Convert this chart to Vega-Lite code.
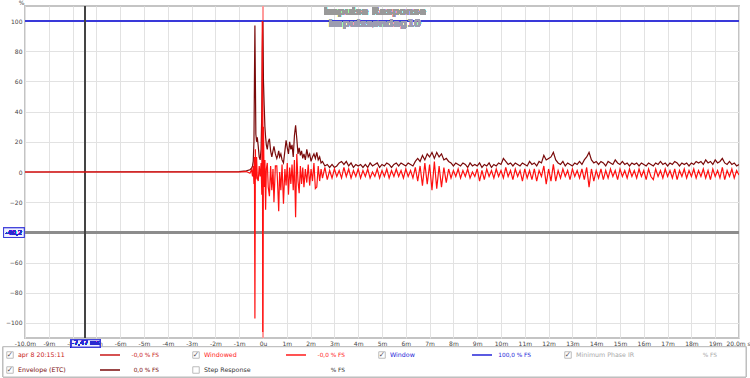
{
  "$schema": "https://vega.github.io/schema/vega-lite/v6.json",
  "width": 714,
  "height": 332,
  "autosize": "none",
  "padding": {"left": 25, "top": 6, "right": 11, "bottom": 40},
  "background": "white",
  "config": {
    "font": "DejaVu Sans",
    "view": {"stroke": "#c4c4c4", "strokeWidth": 2},
    "axis": {"labelFont": "DejaVu Sans", "labelFontSize": 6, "labelColor": "#444", "gridColor": "#e2e2e2", "gridWidth": 1, "ticks": false, "domain": false, "labelOverlap": false, "labelFlush": false}
  },
  "datasets": {
    "ir": [
      {"t": -10, "w": 0, "e": 0},
      {"t": -1.0, "w": 0, "e": 0.3},
      {"t": -0.7, "w": 0.3, "e": 0.8},
      {"t": -0.55, "w": -0.8, "e": 1.5},
      {"t": -0.48, "w": 1.5, "e": 2.5},
      {"t": -0.44, "w": -3, "e": 4},
      {"t": -0.41, "w": 4, "e": 7},
      {"t": -0.38, "w": -8, "e": 20},
      {"t": -0.36, "w": 10, "e": 60},
      {"t": -0.34, "w": -97, "e": 97},
      {"t": -0.32, "w": 15, "e": 60},
      {"t": -0.30, "w": -5, "e": 25},
      {"t": -0.27, "w": 10, "e": 20},
      {"t": -0.24, "w": -4, "e": 23},
      {"t": -0.20, "w": -6, "e": 17},
      {"t": -0.16, "w": 4, "e": 10},
      {"t": -0.12, "w": -3, "e": 8},
      {"t": -0.08, "w": 6, "e": 15},
      {"t": -0.05, "w": -15, "e": 40},
      {"t": -0.03, "w": 100, "e": 80},
      {"t": -0.01, "w": -106, "e": 100},
      {"t": 0.02, "w": 30, "e": 60},
      {"t": 0.05, "w": -10, "e": 44},
      {"t": 0.08, "w": 8, "e": 30},
      {"t": 0.11, "w": -25, "e": 23},
      {"t": 0.14, "w": 2, "e": 18},
      {"t": 0.18, "w": 6, "e": 15},
      {"t": 0.22, "w": -10, "e": 20},
      {"t": 0.27, "w": -16, "e": 22},
      {"t": 0.32, "w": 4, "e": 14},
      {"t": 0.37, "w": -12, "e": 10},
      {"t": 0.42, "w": 2, "e": 14},
      {"t": 0.46, "w": -20, "e": 17},
      {"t": 0.52, "w": 4, "e": 12},
      {"t": 0.58, "w": 4, "e": 9},
      {"t": 0.62, "w": -10, "e": 11},
      {"t": 0.66, "w": -26, "e": 14},
      {"t": 0.70, "w": 0, "e": 10},
      {"t": 0.75, "w": -12, "e": 12},
      {"t": 0.80, "w": 5, "e": 8},
      {"t": 0.86, "w": -21, "e": 6},
      {"t": 0.92, "w": 2, "e": 14},
      {"t": 0.97, "w": -9, "e": 21},
      {"t": 1.02, "w": 6, "e": 16},
      {"t": 1.07, "w": -15, "e": 12},
      {"t": 1.12, "w": 3, "e": 20},
      {"t": 1.17, "w": -8, "e": 15},
      {"t": 1.22, "w": 5, "e": 18},
      {"t": 1.27, "w": -12, "e": 10},
      {"t": 1.32, "w": 8, "e": 24},
      {"t": 1.37, "w": -30, "e": 31},
      {"t": 1.42, "w": 12, "e": 22},
      {"t": 1.47, "w": -6, "e": 12},
      {"t": 1.52, "w": -14, "e": 16},
      {"t": 1.57, "w": 4, "e": 11},
      {"t": 1.62, "w": -8, "e": 14},
      {"t": 1.67, "w": 3, "e": 9},
      {"t": 1.72, "w": -10, "e": 12},
      {"t": 1.78, "w": 2, "e": 8},
      {"t": 1.84, "w": -7, "e": 15},
      {"t": 1.90, "w": 5, "e": 10},
      {"t": 1.96, "w": -9, "e": 12},
      {"t": 2.02, "w": 2, "e": 7},
      {"t": 2.08, "w": -6, "e": 10},
      {"t": 2.14, "w": 6, "e": 12},
      {"t": 2.20, "w": -11, "e": 9},
      {"t": 2.26, "w": -10, "e": 13},
      {"t": 2.32, "w": 4, "e": 8},
      {"t": 2.38, "w": -6, "e": 10},
      {"t": 2.44, "w": 2, "e": 6},
      {"t": 2.50, "w": -4, "e": 7},
      {"t": 2.6, "w": 3, "e": 4},
      {"t": 2.7, "w": -5, "e": 5},
      {"t": 2.8, "w": 1, "e": 3},
      {"t": 2.9, "w": -4, "e": 5},
      {"t": 3.0, "w": 2, "e": 3},
      {"t": 3.1, "w": -3, "e": 4},
      {"t": 3.2, "w": 1, "e": 6},
      {"t": 3.3, "w": -4, "e": 7},
      {"t": 3.4, "w": 3, "e": 5},
      {"t": 3.5, "w": -3, "e": 7},
      {"t": 3.6, "w": 2, "e": 4},
      {"t": 3.7, "w": -4, "e": 6},
      {"t": 3.8, "w": 1, "e": 3},
      {"t": 3.9, "w": -3, "e": 5},
      {"t": 4.0, "w": 2, "e": 4},
      {"t": 4.1, "w": -4, "e": 5},
      {"t": 4.2, "w": 1, "e": 3},
      {"t": 4.3, "w": -3, "e": 5},
      {"t": 4.4, "w": 2, "e": 3},
      {"t": 4.5, "w": -4, "e": 6},
      {"t": 4.6, "w": 0, "e": 4},
      {"t": 4.7, "w": -3, "e": 5},
      {"t": 4.8, "w": 2, "e": 6},
      {"t": 4.9, "w": -4, "e": 3},
      {"t": 5.0, "w": 1, "e": 5},
      {"t": 5.1, "w": -3, "e": 4},
      {"t": 5.2, "w": 2, "e": 6},
      {"t": 5.3, "w": -4, "e": 5},
      {"t": 5.4, "w": 1, "e": 3},
      {"t": 5.5, "w": -3, "e": 5},
      {"t": 5.6, "w": 2, "e": 6},
      {"t": 5.7, "w": -3, "e": 4},
      {"t": 5.8, "w": 1, "e": 6},
      {"t": 5.9, "w": -4, "e": 5},
      {"t": 6.0, "w": 2, "e": 4},
      {"t": 6.1, "w": -3, "e": 6},
      {"t": 6.2, "w": 1, "e": 5},
      {"t": 6.3, "w": -4, "e": 4},
      {"t": 6.4, "w": 3, "e": 7},
      {"t": 6.5, "w": -6, "e": 9},
      {"t": 6.6, "w": 4, "e": 7},
      {"t": 6.7, "w": -9, "e": 11},
      {"t": 6.8, "w": 6, "e": 8},
      {"t": 6.9, "w": -8, "e": 12},
      {"t": 7.0, "w": 5, "e": 10},
      {"t": 7.1, "w": -12, "e": 13},
      {"t": 7.2, "w": 7, "e": 9},
      {"t": 7.3, "w": -11, "e": 13},
      {"t": 7.4, "w": 4, "e": 10},
      {"t": 7.5, "w": -10, "e": 12},
      {"t": 7.6, "w": 3, "e": 8},
      {"t": 7.7, "w": -7, "e": 9},
      {"t": 7.8, "w": 2, "e": 7},
      {"t": 7.9, "w": -4, "e": 6},
      {"t": 8.0, "w": 1, "e": 4},
      {"t": 8.1, "w": -3, "e": 6},
      {"t": 8.2, "w": 2, "e": 5},
      {"t": 8.3, "w": -4, "e": 4},
      {"t": 8.4, "w": 1, "e": 6},
      {"t": 8.5, "w": -3, "e": 5},
      {"t": 8.6, "w": 2, "e": 3},
      {"t": 8.7, "w": -4, "e": 6},
      {"t": 8.8, "w": 0, "e": 4},
      {"t": 8.9, "w": -3, "e": 5},
      {"t": 9.0, "w": 2, "e": 4},
      {"t": 9.1, "w": -6, "e": 6},
      {"t": 9.2, "w": 1, "e": 3},
      {"t": 9.3, "w": -5, "e": 5},
      {"t": 9.4, "w": 2, "e": 4},
      {"t": 9.5, "w": -3, "e": 6},
      {"t": 9.6, "w": 1, "e": 3},
      {"t": 9.7, "w": -4, "e": 5},
      {"t": 9.8, "w": 2, "e": 4},
      {"t": 9.9, "w": -3, "e": 6},
      {"t": 10.0, "w": 1, "e": 5},
      {"t": 10.1, "w": -4, "e": 9},
      {"t": 10.2, "w": 3, "e": 7},
      {"t": 10.3, "w": -3, "e": 5},
      {"t": 10.4, "w": 1, "e": 6},
      {"t": 10.5, "w": -5, "e": 4},
      {"t": 10.6, "w": 2, "e": 6},
      {"t": 10.7, "w": -3, "e": 5},
      {"t": 10.8, "w": 1, "e": 4},
      {"t": 10.9, "w": -6, "e": 6},
      {"t": 11.0, "w": 2, "e": 5},
      {"t": 11.1, "w": -4, "e": 4},
      {"t": 11.2, "w": 1, "e": 7},
      {"t": 11.3, "w": -5, "e": 5},
      {"t": 11.4, "w": 2, "e": 6},
      {"t": 11.5, "w": -6, "e": 4},
      {"t": 11.6, "w": 1, "e": 7},
      {"t": 11.7, "w": -3, "e": 6},
      {"t": 11.8, "w": 4, "e": 11},
      {"t": 11.9, "w": -8, "e": 8},
      {"t": 12.0, "w": 2, "e": 9},
      {"t": 12.1, "w": -6, "e": 10},
      {"t": 12.2, "w": 5, "e": 13},
      {"t": 12.3, "w": -6, "e": 8},
      {"t": 12.4, "w": 1, "e": 6},
      {"t": 12.5, "w": -4, "e": 5},
      {"t": 12.6, "w": 2, "e": 7},
      {"t": 12.7, "w": -3, "e": 4},
      {"t": 12.8, "w": 1, "e": 6},
      {"t": 12.9, "w": -5, "e": 5},
      {"t": 13.0, "w": 2, "e": 4},
      {"t": 13.1, "w": -3, "e": 6},
      {"t": 13.2, "w": 1, "e": 5},
      {"t": 13.3, "w": -4, "e": 7},
      {"t": 13.4, "w": 2, "e": 5},
      {"t": 13.5, "w": -5, "e": 8},
      {"t": 13.6, "w": 3, "e": 10},
      {"t": 13.7, "w": -10, "e": 13},
      {"t": 13.8, "w": 2, "e": 8},
      {"t": 13.9, "w": -6, "e": 6},
      {"t": 14.0, "w": 1, "e": 7},
      {"t": 14.1, "w": -4, "e": 5},
      {"t": 14.2, "w": 2, "e": 7},
      {"t": 14.3, "w": -5, "e": 6},
      {"t": 14.4, "w": 1, "e": 4},
      {"t": 14.5, "w": -4, "e": 7},
      {"t": 14.6, "w": 2, "e": 6},
      {"t": 14.7, "w": -3, "e": 5},
      {"t": 14.8, "w": 1, "e": 8},
      {"t": 14.9, "w": -5, "e": 6},
      {"t": 15.0, "w": 2, "e": 5},
      {"t": 15.1, "w": -3, "e": 7},
      {"t": 15.2, "w": 1, "e": 5},
      {"t": 15.3, "w": -4, "e": 6},
      {"t": 15.4, "w": 2, "e": 4},
      {"t": 15.5, "w": -3, "e": 6},
      {"t": 15.6, "w": 1, "e": 5},
      {"t": 15.7, "w": -4, "e": 6},
      {"t": 15.8, "w": 2, "e": 4},
      {"t": 15.9, "w": -3, "e": 6},
      {"t": 16.0, "w": 1, "e": 5},
      {"t": 16.1, "w": -5, "e": 4},
      {"t": 16.2, "w": 2, "e": 6},
      {"t": 16.3, "w": -3, "e": 5},
      {"t": 16.4, "w": -5, "e": 4},
      {"t": 16.5, "w": 2, "e": 6},
      {"t": 16.6, "w": -3, "e": 5},
      {"t": 16.7, "w": 1, "e": 7},
      {"t": 16.8, "w": -4, "e": 5},
      {"t": 16.9, "w": 2, "e": 6},
      {"t": 17.0, "w": -3, "e": 4},
      {"t": 17.1, "w": 1, "e": 6},
      {"t": 17.2, "w": -4, "e": 5},
      {"t": 17.3, "w": 2, "e": 7},
      {"t": 17.4, "w": -5, "e": 6},
      {"t": 17.5, "w": 1, "e": 4},
      {"t": 17.6, "w": -3, "e": 6},
      {"t": 17.7, "w": 2, "e": 5},
      {"t": 17.8, "w": -4, "e": 6},
      {"t": 17.9, "w": 1, "e": 4},
      {"t": 18.0, "w": -3, "e": 6},
      {"t": 18.1, "w": 2, "e": 5},
      {"t": 18.2, "w": -4, "e": 7},
      {"t": 18.3, "w": 1, "e": 6},
      {"t": 18.4, "w": -3, "e": 7},
      {"t": 18.5, "w": 2, "e": 5},
      {"t": 18.6, "w": -4, "e": 8},
      {"t": 18.7, "w": 1, "e": 6},
      {"t": 18.8, "w": -5, "e": 7},
      {"t": 18.9, "w": 2, "e": 5},
      {"t": 19.0, "w": -3, "e": 8},
      {"t": 19.1, "w": 1, "e": 6},
      {"t": 19.2, "w": -4, "e": 7},
      {"t": 19.3, "w": 3, "e": 9},
      {"t": 19.4, "w": -5, "e": 6},
      {"t": 19.5, "w": 1, "e": 5},
      {"t": 19.6, "w": -3, "e": 7},
      {"t": 19.7, "w": 2, "e": 5},
      {"t": 19.8, "w": -4, "e": 6},
      {"t": 19.9, "w": 1, "e": 4},
      {"t": 20.0, "w": -2, "e": 5}
    ],
    "legend": [
      {"item": "apr 8 20:15:11", "col": 0, "row": 1, "val": "-0,0 % FS", "checked": true, "line": true},
      {"item": "Envelope (ETC)", "col": 0, "row": 2, "val": "0,0 % FS", "checked": true, "line": true},
      {"item": "Windowed", "col": 1, "row": 1, "val": "-0,0 % FS", "checked": true, "line": true},
      {"item": "Step Response", "col": 1, "row": 2, "val": "% FS", "checked": false, "line": false},
      {"item": "Window", "col": 2, "row": 1, "val": "100,0 % FS", "checked": true, "line": true},
      {"item": "Minimum Phase IR", "col": 3, "row": 1, "val": "% FS", "checked": true, "line": false}
    ]
  },
  "layer": [
    {
      "data": {"name": "legend"},
      "encoding": {
        "x": {"field": "col", "type": "quantitative", "scale": {"domain": [0.0806, 3.9193], "nice": false, "zero": false}, "axis": null},
        "y": {"field": "row", "type": "quantitative", "scale": {"domain": [-22.267, -0.133], "reverse": true, "nice": false, "zero": false}, "axis": null},
        "color": {"field": "item", "type": "nominal", "legend": null,
          "scale": {"domain": ["apr 8 20:15:11", "Envelope (ETC)", "Windowed", "Step Response", "Window", "Minimum Phase IR"],
                    "range": ["#c81818", "#7a0a0a", "#ff1a1a", "#333333", "#2424d8", "#a8a8a8"]}}
      },
      "layer": [
        {
          "mark": {"type": "rect", "fill": "white", "stroke": "#bdbdbd", "strokeWidth": 1, "clip": false},
          "encoding": {"x": {"datum": -0.0376}, "x2": {"datum": 3.957}, "y": {"datum": 0.45}, "y2": {"datum": 2.467}, "color": {"value": "white"}}
        },
        {
          "mark": {"type": "point", "shape": "square", "size": 42, "filled": true, "strokeWidth": 1, "clip": false},
          "encoding": {"color": {"value": "white"}, "stroke": {"value": "#a0a0a0"}, "fill": {"value": "#ffffff"}}
        },
        {
          "transform": [{"filter": "datum.checked"}],
          "mark": {"type": "text", "fontSize": 7.5, "clip": false},
          "encoding": {"text": {"value": "✓"}, "color": {"value": "#555555"}}
        },
        {
          "mark": {"type": "text", "fontSize": 6.3, "align": "left", "dx": 8, "clip": false},
          "encoding": {"text": {"field": "item"}}
        },
        {
          "transform": [{"filter": "datum.line"}],
          "mark": {"type": "rule", "strokeWidth": 1.5, "xOffset": 90, "x2Offset": 110, "clip": false},
          "encoding": {"x2": {"field": "col"}}
        },
        {
          "mark": {"type": "text", "fontSize": 5.8, "align": "right", "dx": 149, "clip": false},
          "encoding": {"text": {"field": "val"}}
        }
      ]
    },
    {
      "data": {"name": "ir"},
      "encoding": {
        "x": {"type": "quantitative", "scale": {"domain": [-10, 20], "nice": false, "zero": false},
          "axis": {"values": [-10,-9,-8,-7,-6,-5,-4,-3,-2,-1,0,1,2,3,4,5,6,7,8,9,10,11,12,13,14,15,16,17,18,19,20],
                "title": null, "grid": true, "labelPadding": 2, "labelOverlap": false,
                "labelOffset": {"condition": {"test": "datum.value == 20", "value": -1}, "value": 0},
                "labelExpr": "datum.value == -10 ? '-10,0m' : datum.value == 0 ? '0u' : datum.value == 20 ? '20,0m s' : datum.value + 'm'"}},
        "y": {"type": "quantitative", "scale": {"domain": [-110, 110], "nice": false, "zero": false},
          "axis": {"values": [-100,-80,-60,-40,-20,0,20,40,60,80,100], "grid": true, "labelPadding": 3, "labelOverlap": false,
                "labelExpr": "datum.value == -40 ? '' : datum.label",
                "title": "%", "titleAngle": 0, "titleFontSize": 6, "titleFontWeight": "normal", "titleColor": "#444", "titleX": -4, "titleY": -1, "titleBaseline": "bottom"}}
      },
      "layer": [
        {
          "mark": {"type": "rule", "color": "#ff9a9a", "strokeWidth": 1},
          "encoding": {"x": {"datum": 0}}
        },
        {
          "mark": {"type": "rule", "color": "#3a3ad8", "strokeWidth": 1.5},
          "encoding": {"y": {"datum": 100}}
        },
        {
          "mark": {"type": "rule", "color": "#8c8c8c", "strokeWidth": 2},
          "encoding": {"y": {"datum": -40.2}}
        },
        {
          "mark": {"type": "rule", "color": "#444444", "strokeWidth": 1},
          "encoding": {"x": {"datum": -7.47}}
        },
        {
          "mark": {"type": "line", "color": "#7a0a0a", "strokeWidth": 1.2, "clip": true},
          "encoding": {"x": {"field": "t", "type": "quantitative"}, "y": {"field": "e", "type": "quantitative"}}
        },
        {
          "mark": {"type": "line", "color": "#ff1010", "strokeWidth": 1.2, "clip": true},
          "encoding": {"x": {"field": "t", "type": "quantitative"}, "y": {"field": "w", "type": "quantitative"}}
        },
        {
          "mark": {"type": "text", "fontSize": 10, "fontWeight": "bold", "fill": "#999999", "font": "DejaVu Sans"},
          "encoding": {"x": {"datum": 4.7}, "y": {"datum": 106}, "text": {"value": "Impulse Response"}}
        },
        {
          "mark": {"type": "text", "fontSize": 10, "fontWeight": "bold", "fill": "#9c9cb0", "font": "DejaVu Sans"},
          "encoding": {"x": {"datum": 4.7}, "y": {"datum": 98}, "text": {"value": "impulssøndag10"}}
        },
        {
          "mark": {"type": "rect", "fill": "#eef0ff", "stroke": "#3a3ad8", "strokeWidth": 1, "clip": false},
          "encoding": {"x": {"datum": -10.9}, "x2": {"datum": -10.03}, "y": {"datum": -37}, "y2": {"datum": -43.4}}
        },
        {
          "mark": {"type": "text", "fontSize": 6.5, "fill": "#2a2ad0", "clip": false},
          "encoding": {"x": {"datum": -10.47}, "y": {"datum": -40.2}, "text": {"value": "-40,2"}}
        },
        {
          "mark": {"type": "rect", "fill": "#eef0ff", "stroke": "#3a3ad8", "strokeWidth": 1, "clip": false},
          "encoding": {"x": {"datum": -8.05}, "x2": {"datum": -6.85}, "y": {"datum": -111.2}, "y2": {"datum": -116}}
        },
        {
          "mark": {"type": "text", "fontSize": 6.3, "fill": "#2a2ad0", "clip": false},
          "encoding": {"x": {"datum": -7.45}, "y": {"datum": -113.6}, "text": {"value": "-7,47 ms"}}
        }
      ]
    }
  ],
  "resolve": {"scale": {"x": "independent", "y": "independent", "color": "independent"}}
}
